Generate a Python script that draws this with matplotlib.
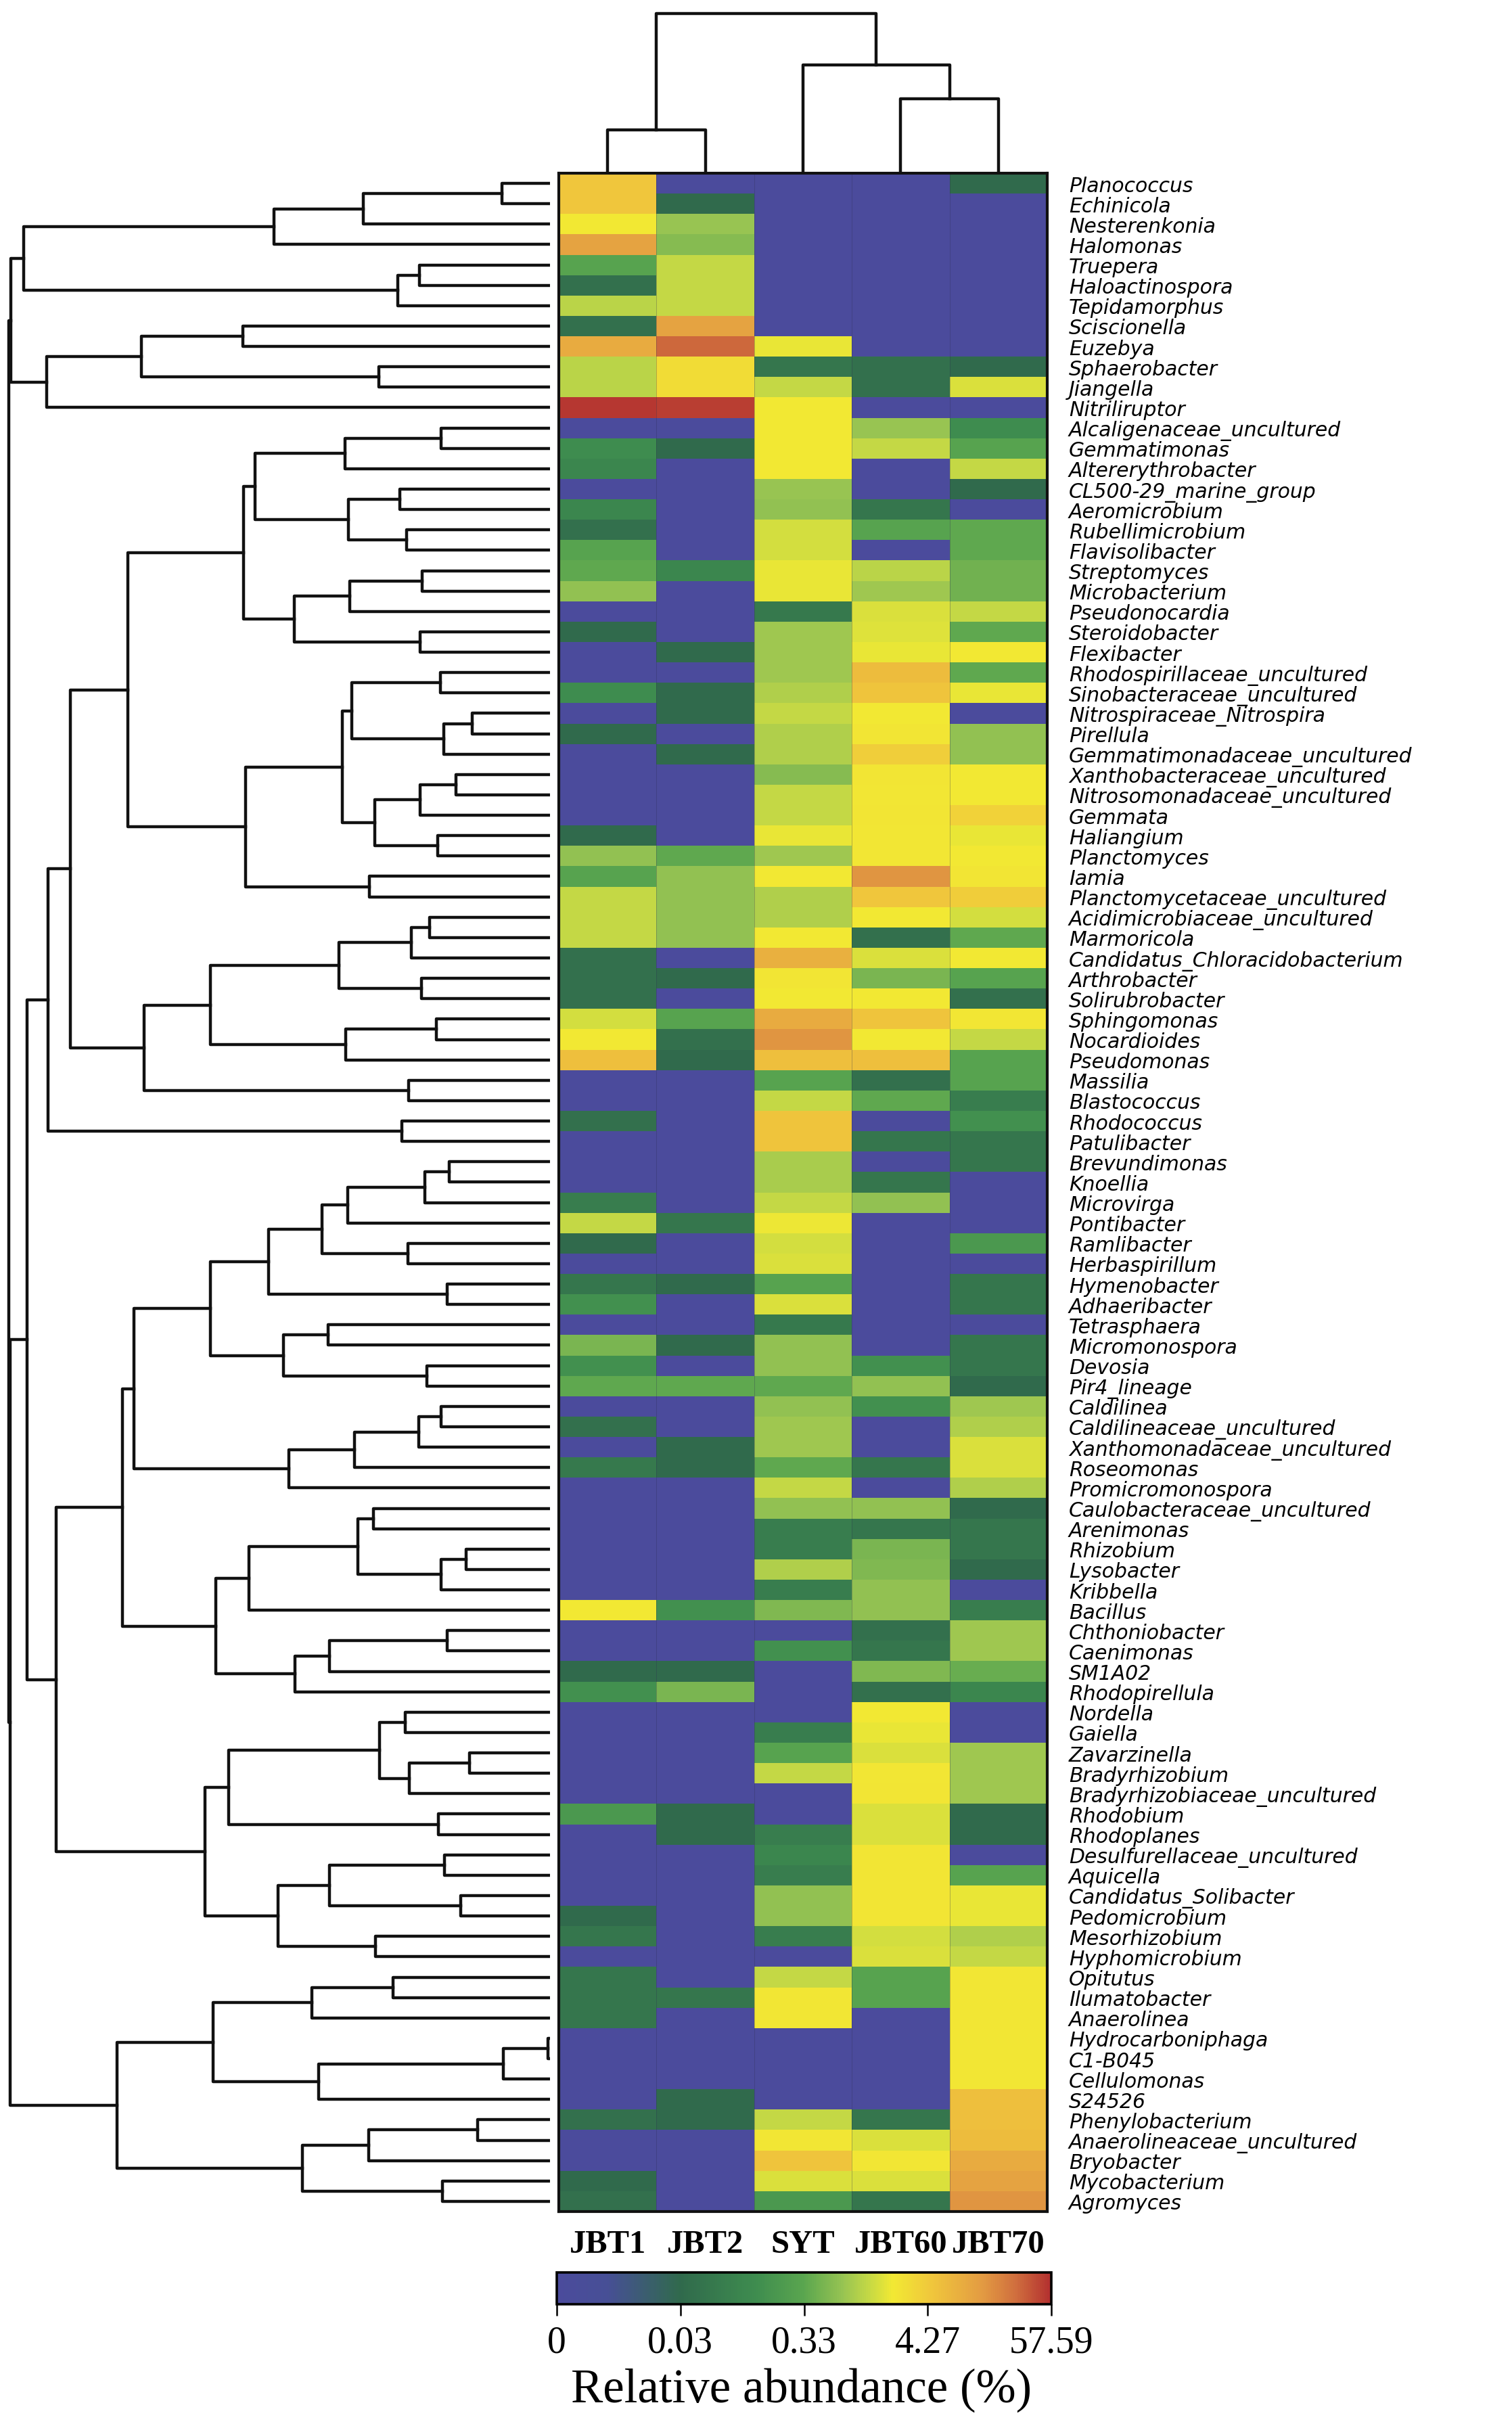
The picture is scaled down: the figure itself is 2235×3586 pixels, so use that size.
import numpy as np
import matplotlib
matplotlib.use("Agg")
import matplotlib.pyplot as plt
from matplotlib.colors import LinearSegmentedColormap, FuncNorm
from matplotlib.cm import ScalarMappable

# genus names, top to bottom
genera = [
    "Planococcus", "Echinicola", "Nesterenkonia", "Halomonas", "Truepera",
    "Haloactinospora", "Tepidamorphus", "Sciscionella", "Euzebya", "Sphaerobacter",
    "Jiangella", "Nitriliruptor", "Alcaligenaceae_uncultured", "Gemmatimonas",
    "Altererythrobacter", "CL500-29_marine_group", "Aeromicrobium", "Rubellimicrobium",
    "Flavisolibacter", "Streptomyces", "Microbacterium", "Pseudonocardia",
    "Steroidobacter", "Flexibacter", "Rhodospirillaceae_uncultured",
    "Sinobacteraceae_uncultured", "Nitrospiraceae_Nitrospira", "Pirellula",
    "Gemmatimonadaceae_uncultured", "Xanthobacteraceae_uncultured",
    "Nitrosomonadaceae_uncultured", "Gemmata", "Haliangium", "Planctomyces", "Iamia",
    "Planctomycetaceae_uncultured", "Acidimicrobiaceae_uncultured", "Marmoricola",
    "Candidatus_Chloracidobacterium", "Arthrobacter", "Solirubrobacter", "Sphingomonas",
    "Nocardioides", "Pseudomonas", "Massilia", "Blastococcus", "Rhodococcus",
    "Patulibacter", "Brevundimonas", "Knoellia", "Microvirga", "Pontibacter",
    "Ramlibacter", "Herbaspirillum", "Hymenobacter", "Adhaeribacter", "Tetrasphaera",
    "Micromonospora", "Devosia", "Pir4_lineage", "Caldilinea", "Caldilineaceae_uncultured",
    "Xanthomonadaceae_uncultured", "Roseomonas", "Promicromonospora",
    "Caulobacteraceae_uncultured", "Arenimonas", "Rhizobium", "Lysobacter", "Kribbella",
    "Bacillus", "Chthoniobacter", "Caenimonas", "SM1A02", "Rhodopirellula", "Nordella",
    "Gaiella", "Zavarzinella", "Bradyrhizobium", "Bradyrhizobiaceae_uncultured",
    "Rhodobium", "Rhodoplanes", "Desulfurellaceae_uncultured", "Aquicella",
    "Candidatus_Solibacter", "Pedomicrobium", "Mesorhizobium", "Hyphomicrobium",
    "Opitutus", "Ilumatobacter", "Anaerolinea", "Hydrocarboniphaga", "C1-B045",
    "Cellulomonas", "S24526", "Phenylobacterium", "Anaerolineaceae_uncultured",
    "Bryobacter", "Mycobacterium", "Agromyces",
]

samples = ["JBT1", "JBT2", "SYT", "JBT60", "JBT70"]

# relative abundance (%) per sample, same order as genera
jbt1 = [4.8, 4.8, 2.1, 11, 0.3, 0.04, 1.1, 0.04, 9, 1.1,
        1.1, 52, 0, 0.13, 0.1, 0, 0.1, 0.04, 0.3, 0.35,
        0.7, 0, 0.03, 0, 0, 0.13, 0, 0.03, 0, 0,
        0, 0, 0.03, 0.7, 0.3, 1.25, 1.25, 1.25, 0.04, 0.04,
        0.04, 1.5, 2.1, 5.5, 0, 0, 0.04, 0, 0, 0,
        0.07, 1.25, 0.03, 0, 0.05, 0.15, 0, 0.5, 0.15, 0.35,
        0, 0.04, 0, 0.06, 0, 0, 0, 0, 0, 0,
        2.1, 0, 0, 0.03, 0.15, 0, 0, 0, 0, 0,
        0.2, 0, 0, 0, 0, 0.03, 0.05, 0, 0.05, 0.05,
        0.05, 0, 0, 0, 0, 0.04, 0, 0, 0.03, 0.04]
jbt2 = [0, 0.03, 0.75, 0.6, 1.25, 1.25, 1.25, 11, 30, 2.8,
        2.8, 48, 0, 0.03, 0, 0, 0, 0, 0, 0.1,
        0, 0, 0, 0.03, 0, 0.03, 0.03, 0, 0.03, 0,
        0, 0, 0, 0.35, 0.7, 0.7, 0.7, 0.7, 0, 0.03,
        0, 0.3, 0.04, 0.03, 0, 0, 0, 0, 0, 0,
        0, 0.05, 0, 0, 0.03, 0, 0, 0.03, 0, 0.35,
        0, 0, 0.03, 0.03, 0, 0, 0, 0, 0, 0,
        0.15, 0, 0, 0.03, 0.5, 0, 0, 0, 0, 0,
        0.03, 0.03, 0, 0, 0, 0, 0, 0, 0, 0.05,
        0, 0, 0, 0, 0.03, 0.03, 0, 0, 0, 0]
syt = [0, 0, 0, 0, 0, 0, 0, 0, 1.9, 0.05,
       1.25, 2.1, 2.1, 2.1, 2.1, 0.75, 0.7, 1.5, 1.5, 1.9,
       1.9, 0.06, 0.8, 0.8, 0.8, 1.0, 1.25, 1.0, 1.0, 0.6,
       1.25, 1.25, 1.9, 0.8, 2.1, 1.0, 1.0, 2.1, 8, 2.3,
       2.1, 9, 15, 5.5, 0.3, 1.25, 5, 5, 0.9, 0.9,
       1.25, 2.0, 1.5, 1.6, 0.3, 1.6, 0.06, 0.7, 0.7, 0.35,
       0.7, 0.8, 0.8, 0.35, 1.25, 0.7, 0.07, 0.07, 1.0, 0.07,
       0.55, 0, 0.15, 0, 0, 0, 0.07, 0.3, 1.25, 0,
       0, 0.07, 0.1, 0.07, 0.7, 0.7, 0.07, 0, 1.25, 2.2,
       2.2, 0, 0, 0, 0, 1.25, 2.2, 5, 1.6, 0.2]
jbt60 = [0, 0, 0, 0, 0, 0, 0, 0, 0, 0.04,
         0.04, 0, 0.75, 1.25, 0, 0, 0.05, 0.3, 0, 1.1,
         0.8, 1.6, 1.7, 1.9, 6, 5, 2.1, 2.3, 3.8, 2.3,
         2.2, 2.3, 2.2, 2.2, 15, 4.8, 2.1, 0.04, 1.6, 0.5,
         2.1, 5, 2.1, 5.5, 0.04, 0.35, 0, 0.05, 0, 0.05,
         0.7, 0, 0, 0, 0, 0, 0, 0, 0.15, 0.7,
         0.15, 0, 0, 0.05, 0, 0.7, 0.05, 0.5, 0.55, 0.7,
         0.7, 0.04, 0.05, 0.55, 0.04, 2.1, 1.9, 1.6, 2.2, 2.3,
         1.6, 1.6, 2.3, 2.3, 2.3, 2.3, 1.5, 1.6, 0.3, 0.3,
         0, 0, 0, 0, 0, 0.05, 1.6, 2.2, 1.6, 0.05]
jbt70 = [0.03, 0, 0, 0, 0, 0, 0, 0, 0, 0.03,
         1.6, 0, 0.13, 0.3, 1.25, 0.03, 0, 0.35, 0.35, 0.45,
         0.45, 1.25, 0.35, 2.1, 0.35, 1.9, 0, 0.7, 0.7, 2.1,
         2.1, 3.5, 1.9, 2.1, 2.3, 4.0, 1.5, 0.35, 2.1, 0.3,
         0.04, 2.2, 1.25, 0.3, 0.3, 0.07, 0.15, 0.05, 0.05, 0,
         0, 0, 0.2, 0, 0.05, 0.05, 0, 0.05, 0.05, 0.03,
         0.8, 1.0, 1.6, 1.6, 1.0, 0.03, 0.05, 0.05, 0.03, 0,
         0.07, 0.8, 0.8, 0.4, 0.1, 0, 0, 0.8, 0.8, 0.8,
         0.03, 0.03, 0, 0.3, 1.9, 1.9, 1.0, 1.25, 2.2, 2.2,
         2.2, 2.2, 2.2, 2.2, 5.5, 5.5, 6, 9, 11, 15]

# colour bar tick values (evenly spaced on the bar)
cbar_ticks = [0, 0.03, 0.33, 4.27, 57.59]

# row clustering: [height, left, right], leaves are 1-based row numbers
c1_7 = [1453, [761, [515, [133, 1, 2], 3], 4], [420, [361, 5, 6], 7]]
c8_12 = [1390, [1128, [848, 8, 9], [473, 10, 11]], 12]
c13_24 = [846, [815, [566, [300, 13, 14], 15], [556, [415, 16, 17], [396, 18, 19]]],
          [705, [553, [353, 20, 21], 22], [358, 23, 24]]]
c25_34 = [573, [548, [303, 25, 26], [293, [215, 27, 28], 29]],
          [483, [358, [260, 30, 31], 32], [310, 33, 34]]]
c25_36 = [840, c25_34, [498, 35, 36]]
c37_46 = [1120, [938, [583, [383, [333, 37, 38], 39], [355, 40, 41]],
                 [563, [313, 42, 43], 44]], [390, 45, 46]]
c13_48 = [1385, [1323, [1166, c13_24, c25_36], c37_46], [408, 47, 48]]
c49_60 = [938, [776, [630, [558, [346, [278, 49, 50], 51], 52], [393, 53, 54]], [283, 55, 56]],
          [736, [613, 57, 58], [340, 59, 60]]]
c61_65 = [720, [540, [363, [300, 61, 62], 63], 64], 65]
c66_71 = [830, [530, [488, 66, 67], [301, [231, 68, 69], 70]], 71]
c72_75 = [703, [608, [283, 72, 73], 74], 75]
c76_82 = [886, [470, [400, 76, 77], [388, [223, 78, 79], 80]], [308, 81, 82]]
c83_88 = [750, [608, [291, 83, 84], [246, 85, 86]], [481, 87, 88]]
c49_88 = [1363, [1180, [1148, c49_60, c61_65], [923, c66_71, c72_75]], [953, c76_82, c83_88]]
c89_95 = [930, [658, [433, 89, 90], 91], [638, [128, [6, 92, 93], 94], 95]]
c96_100 = [683, [500, [200, 96, 97], 98], [296, 99, 100]]
row_tree = [1494, [1488, c1_7, c8_12], [1490, [1443, c13_48, c49_88], [1195, c89_95, c96_100]]]

# sample clustering
col_tree = [236, [64.5, 1, 2], [160, 3, [110, 4, 5]]]

W, H = 2235, 3587
fig = plt.figure(figsize=(W / 100, H / 100), dpi=100)

colours = [(0.00, "#4b4b9c"), (0.10, "#474f96"), (0.25, "#306a4c"), (0.40, "#3e8c4f"),
           (0.50, "#5aa64f"), (0.58, "#98c452"), (0.63, "#c3d845"), (0.68, "#f2e933"),
           (0.76, "#f0c63c"), (0.86, "#e39c42"), (0.93, "#d06e3e"), (1.00, "#b3302f")]
cmap = LinearSegmentedColormap.from_list("abund", colours)

tick_g = np.log10(np.array(cbar_ticks) + 0.0035)
tick_p = np.linspace(0, 1, len(cbar_ticks))


def fwd(v):
    return np.interp(np.log10(np.asarray(v, dtype=float) + 0.0035), tick_g, tick_p)


def inv(p):
    return 10 ** np.interp(np.asarray(p, dtype=float), tick_p, tick_g) - 0.0035


norm = FuncNorm((fwd, inv), vmin=cbar_ticks[0], vmax=cbar_ticks[-1])

hm_l, hm_r, hm_t, hm_b = 826, 1548, 257, 3270


def box(x0, x1, y0, y1):
    return [x0 / W, 1 - y1 / H, (x1 - x0) / W, (y1 - y0) / H]


# heatmap
ax = fig.add_axes(box(hm_l, hm_r, hm_t, hm_b))
M = np.column_stack([jbt1, jbt2, syt, jbt60, jbt70])
ax.pcolormesh(np.arange(M.shape[1] + 1), np.arange(M.shape[0] + 1), M, cmap=cmap, norm=norm)
for k in range(1, M.shape[1]):
    ax.axvline(k, color="#2a2a50", lw=0.6, alpha=0.35)
ax.set_xlim(0, M.shape[1])
ax.set_ylim(M.shape[0], 0)
ax.yaxis.tick_right()
ax.set_yticks(np.arange(M.shape[0]) + 0.5)
# row labels sized so neighbouring labels do not collide
ax.set_yticklabels(genera, family="DejaVu Sans", style="oblique", fontsize=21.5)
ax.tick_params(axis="y", length=0, pad=23)
ax.set_xticks(np.arange(M.shape[1]) + 0.5)
ax.set_xticklabels(samples, family="Liberation Serif", weight="bold", fontsize=35)
ax.tick_params(axis="x", length=0, pad=19)
for s in ax.spines.values():
    s.set_linewidth(3.0)
    s.set_color("#111111")


def draw_tree(axis, node, vertical):
    if isinstance(node, int):
        return node - 0.5, 0
    h, left, right = node
    pl, hl = draw_tree(axis, left, vertical)
    pr, hr = draw_tree(axis, right, vertical)
    if vertical:
        axis.plot([pl, pl, pr, pr], [hl, h, h, hr], color="#111111", lw=3.2)
    else:
        axis.plot([hl, h, h, hr], [pl, pl, pr, pr], color="#111111", lw=3.2)
    return (pl + pr) / 2, h


# row dendrogram
axl = fig.add_axes(box(0, 813, hm_t, hm_b))
draw_tree(axl, row_tree, vertical=False)
axl.set_xlim(1518, 0)
axl.set_ylim(len(genera), 0)
axl.axis("off")

# column dendrogram
axt = fig.add_axes(box(hm_l, hm_r, 0, hm_t))
draw_tree(axt, col_tree, vertical=True)
axt.set_xlim(0, len(samples))
axt.set_ylim(0, 257)
axt.axis("off")

# colour bar
cax = fig.add_axes(box(823, 1554, 3360, 3407))
cb = fig.colorbar(ScalarMappable(norm=norm, cmap=cmap), cax=cax, orientation="horizontal",
                  ticks=cbar_ticks)
cb.set_ticklabels(["0", "0.03", "0.33", "4.27", "57.59"])
cb.outline.set_linewidth(2.6)
cax.tick_params(length=12, width=1.8, pad=10, labelsize=40)
for t in cax.get_xticklabels():
    t.set_family("Liberation Serif")
cax.xaxis.set_minor_locator(matplotlib.ticker.NullLocator())
fig.text(1185 / W, 1 - 3533 / H, "Relative abundance (%)", family="Liberation Serif",
         fontsize=51, ha="center", va="center")

fig.savefig("out.png", dpi=100)
